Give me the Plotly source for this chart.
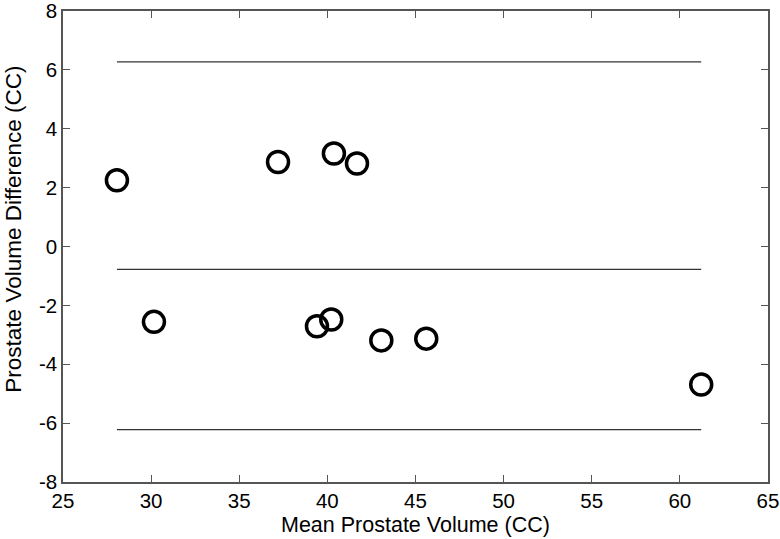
import plotly.graph_objects as go

mean_volume = [28.06, 30.16, 37.2, 40.37, 41.68, 39.41, 40.22, 43.06, 45.61, 61.21]
volume_diff = [2.25, -2.56, 2.87, 3.16, 2.82, -2.71, -2.48, -3.19, -3.13, -4.69]

line_x = [28.06, 61.21]
upper_limit = 6.27
mean_diff = -0.78
lower_limit = -6.22

x_ticks = [25, 30, 35, 40, 45, 50, 55, 60, 65]
y_ticks = [-8, -6, -4, -2, 0, 2, 4, 6, 8]

x_title = "Mean Prostate Volume (CC)"
y_title = "Prostate Volume Difference (CC)"

fig = go.Figure()
for level in [upper_limit, mean_diff, lower_limit]:
    fig.add_trace(go.Scatter(x=line_x, y=[level, level], mode="lines",
                             line=dict(color="#333333", width=1.2),
                             showlegend=False, hoverinfo="skip"))
fig.add_trace(go.Scatter(x=mean_volume, y=volume_diff, mode="markers",
                         marker=dict(symbol="circle-open", size=21,
                                     color="black", line=dict(width=3.5, color="black")),
                         showlegend=False))

FONT = "Liberation Sans, Arial, sans-serif"
axis_common = dict(showline=True, linecolor="#555555", linewidth=1.5, mirror="ticks",
                   ticks="inside", ticklen=7, tickwidth=1.2, tickcolor="#555555",
                   showgrid=False, zeroline=False, automargin=False,
                   ticklabeloverflow="allow",
                   tickfont=dict(family=FONT, size=20.5, color="black"))

fig.update_layout(
    width=780, height=539,
    margin=dict(l=63, r=12, t=11, b=57),
    paper_bgcolor="white", plot_bgcolor="white",
    font=dict(family=FONT, color="black"),
    xaxis=dict(range=[25, 65], tickvals=x_ticks, ticktext=[str(v) for v in x_ticks],
               **axis_common),
    yaxis=dict(range=[-8, 8], tickvals=y_ticks, ticktext=[str(v) for v in y_ticks],
               **axis_common),
    annotations=[
        dict(text=x_title, xref="paper", yref="paper", x=0.5, y=-0.092,
             xanchor="center", yanchor="middle", showarrow=False,
             font=dict(family=FONT, size=21.5, color="black")),
        dict(text=y_title, xref="paper", yref="paper", x=-0.0715, y=0.537,
             xanchor="center", yanchor="middle", showarrow=False, textangle=-90,
             font=dict(family=FONT, size=22.5, color="black")),
    ],
)

fig.write_html("out.html", config={"displayModeBar": False},
               post_script="document.body.style.margin='0px';")
